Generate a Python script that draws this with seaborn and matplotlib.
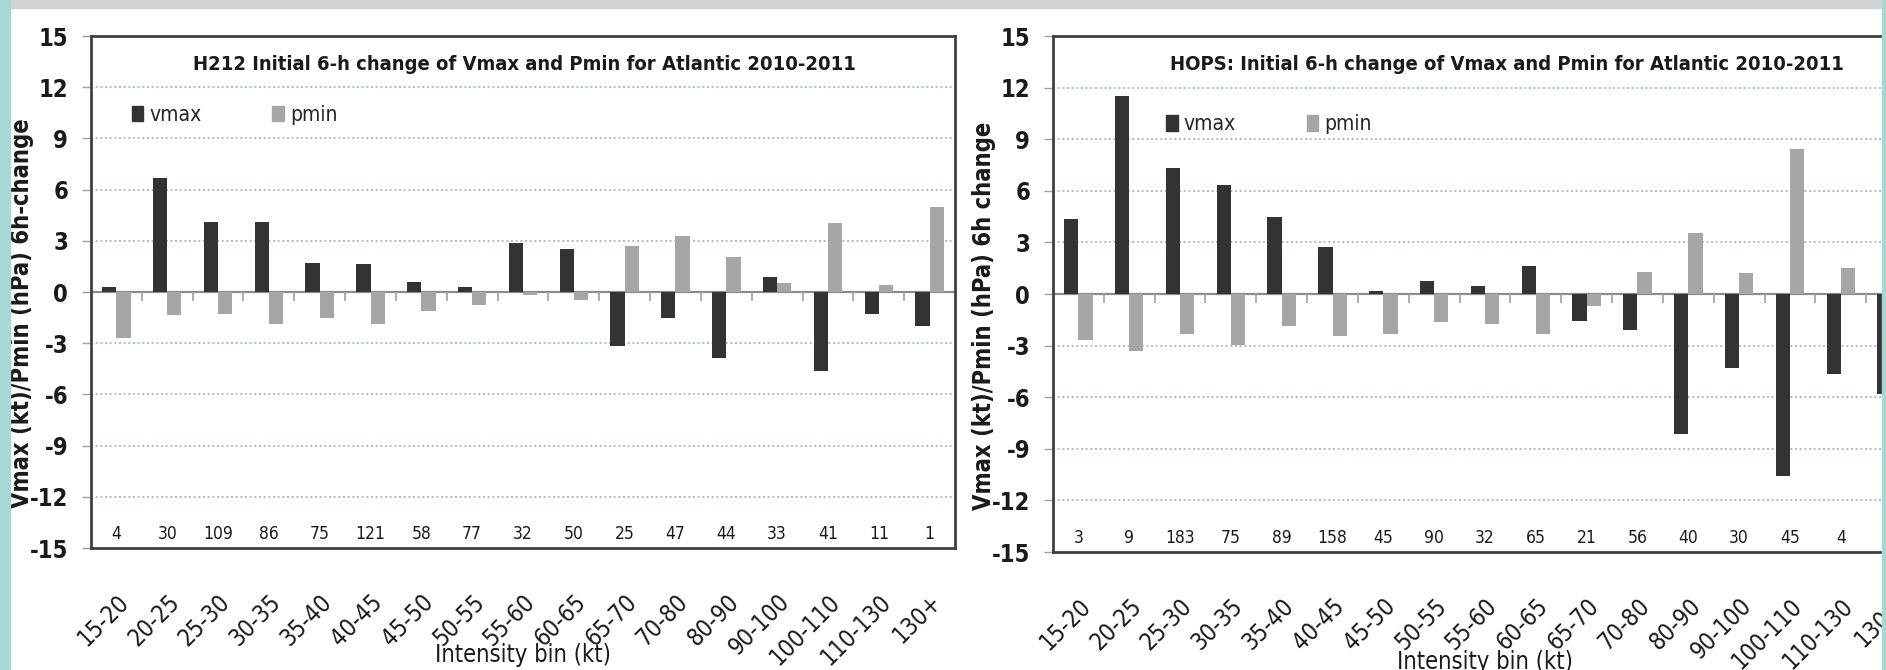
import numpy as np
import pandas as pd
import matplotlib
matplotlib.use("Agg")
import matplotlib.pyplot as plt
import matplotlib.patches as mpatches
import seaborn as sns

# intensity bins (kt)
bins = ["15-20", "20-25", "25-30", "30-35", "35-40", "40-45", "45-50", "50-55",
        "55-60", "60-65", "65-70", "70-80", "80-90", "90-100", "100-110",
        "110-130", "130+"]

# H212 panel
h212_vmax = [0.3, 6.7, 4.1, 4.1, 1.7, 1.65, 0.6, 0.3, 2.9, 2.5, -3.15, -1.5,
             -3.85, 0.85, -4.6, -1.3, -2.0]
h212_pmin = [-2.7, -1.35, -1.3, -1.9, -1.5, -1.85, -1.1, -0.75, -0.2, -0.45,
             2.7, 3.3, 2.05, 0.5, 4.05, 0.4, 5.0]
h212_counts = [4, 30, 109, 86, 75, 121, 58, 77, 32, 50, 25, 47, 44, 33, 41, 11, 1]

# HOPS panel (130+ pmin / count fall outside the picture)
hops_vmax = [4.35, 11.5, 7.3, 6.35, 4.5, 2.75, 0.2, 0.75, 0.45, 1.65, -1.55,
             -2.1, -8.15, -4.3, -10.6, -4.65, -5.8]
hops_pmin = [-2.65, -3.3, -2.3, -2.95, -1.85, -2.45, -2.3, -1.65, -1.75, -2.35,
             -0.7, 1.3, 3.55, 1.25, 8.45, 1.5, 2.0]
hops_counts = [3, 9, 183, 75, 89, 158, 45, 90, 32, 65, 21, 56, 40, 30, 45, 4, None]

series_names = ["vmax", "pmin"]
colors = {"vmax": "#333333", "pmin": "#a6a6a6"}

sns.set_theme(style="white")
plt.rcParams["font.family"] = ["DejaVu Sans"]
plt.rcParams["font.stretch"] = "condensed"

TXT = "#1a1a1a"
W, H = 1886, 670
fig = plt.figure(figsize=(W / 100, H / 100), dpi=100, facecolor="white")

# decorative slide background strips
fig.patches.append(mpatches.Rectangle((0, 1 - 8 / H), 1, 8 / H, transform=fig.transFigure,
                                      color="#cfd3d3", zorder=0))
fig.patches.append(mpatches.Rectangle((0, 0), 10 / W, 1, transform=fig.transFigure,
                                      color="#a9d8d2", zorder=0))
fig.patches.append(mpatches.Rectangle((1882 / W, 0), 4 / W, 1, transform=fig.transFigure,
                                      color="#a9d8d2", zorder=0))


def panel(rect, vmax, pmin, counts, title, title_x, ylabel, ylab_xy, leg_xy, xlab_y):
    ax = fig.add_axes(rect)
    df = pd.DataFrame({
        "bin": bins * 2,
        "value": list(vmax) + list(pmin),
        "series": ["vmax"] * len(bins) + ["pmin"] * len(bins),
    })
    sns.barplot(data=df, x="bin", y="value", hue="series", order=bins,
                hue_order=series_names, palette=colors, width=0.56, gap=0,
                linewidth=0, saturation=1, legend=False, ax=ax, zorder=3)
    ax.set_xlim(-0.5, len(bins) - 0.5)
    ax.set_ylim(-15, 15)
    ax.set_yticks(np.arange(-15, 16, 3))
    ax.set_yticklabels([str(v) for v in range(-15, 16, 3)], fontsize=17,
                       fontweight="bold", color=TXT)
    for y in range(-12, 13, 3):
        if y != 0:
            ax.axhline(y, color="#9fb3c8", lw=1.2, ls=(0, (1.2, 1.6)), zorder=1)
    ax.axhline(0, color="#8c8c8c", lw=1.6, zorder=2)
    bounds = np.arange(0.5, len(bins) - 0.5)
    ax.vlines(bounds, -0.55, 0, color="#a0a0a0", lw=1.2, zorder=2)

    for s in ax.spines.values():
        s.set_color("#404040")
        s.set_linewidth(2)
    ax.tick_params(axis="y", length=6.5, width=1, color="#a0a0a0", pad=10, left=True)
    ax.tick_params(axis="x", length=0, pad=30)
    ax.set_xticks(range(len(bins)))
    ax.set_xticklabels(bins, rotation=45, ha="right", rotation_mode="anchor",
                       fontsize=17, color=TXT)

    for i, c in enumerate(counts):
        if c is not None:
            ax.text(i, -14.2, str(c), ha="center", va="center", fontsize=12.5,
                    color=TXT)

    ax.text(title_x, 13.35, title, transform=ax.get_yaxis_transform(),
            ha="center", va="center", fontsize=14.5, fontweight="bold", color=TXT)

    ax.set_ylabel(ylabel, fontsize=17, fontweight="bold", color=TXT)
    ax.yaxis.set_label_coords(*ylab_xy)
    ax.set_xlabel("Intensity bin (kt)", fontsize=17, color=TXT)
    ax.xaxis.set_label_coords(0.5, xlab_y)

    handles = [mpatches.Patch(color=colors[n], label=n) for n in series_names]
    ax.legend(handles=handles, ncol=2, frameon=False, loc="center left",
              bbox_to_anchor=leg_xy, borderpad=0, borderaxespad=0,
              handlelength=0.55, handleheight=0.75, handletextpad=0.3,
              columnspacing=3.4, prop={"size": 15})
    return ax


ax1 = panel([91 / W, 1 - 548 / H, 864 / W, 512 / H], h212_vmax, h212_pmin,
            h212_counts, "H212 Initial 6-h change of Vmax and Pmin for Atlantic 2010-2011",
            0.502, "Vmax (kt)/Pmin (hPa) 6h-change", (-0.066, 0.459),
            (0.047, 0.846), -0.185)
ax2 = panel([1053 / W, 1 - 552 / H, 864 / W, 516 / H], hops_vmax, hops_pmin,
            hops_counts, "HOPS: Initial 6-h change of Vmax and Pmin for Atlantic 2010-2011",
            0.525, "Vmax (kt)/Pmin (hPa) 6h change", (-0.066, 0.457),
            (0.131, 0.829), -0.19)

fig.savefig("out.png", dpi=100, facecolor=fig.get_facecolor())
